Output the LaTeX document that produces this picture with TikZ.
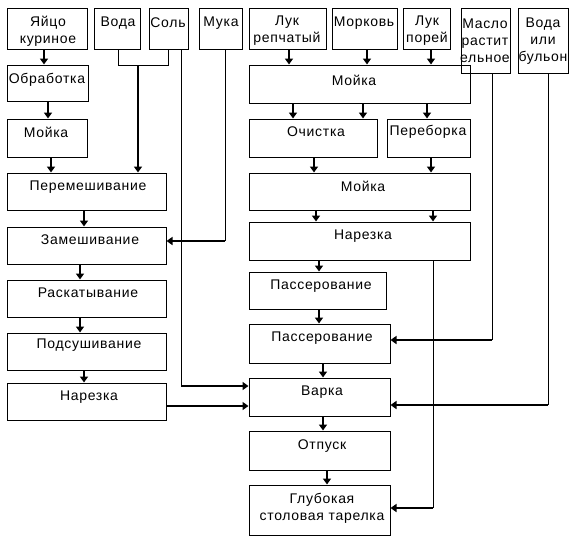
\documentclass[tikz,border=0pt]{standalone}
\usepackage{fontspec}
\setmainfont{Liberation Sans}[LetterSpace=5]
\usetikzlibrary{fit,arrows.meta}
\begin{document}
\begin{tikzpicture}[x=1pt,y=-1pt,
  box/.style={draw,line width=1pt,inner sep=0pt,rectangle},
  txt/.style={inner sep=0pt,align=center,font=\fontsize{14}{17}\selectfont},
  arr/.style={line width=2pt,-{Triangle[length=6pt,width=8pt]}},
  thin/.style={line width=1pt},
  thick/.style={line width=2pt}]
\useasboundingbox (0,0) rectangle (569,536);
% boxes
\newcommand\mkbox[5]{\node[box,fit={(#2,#3) (#4,#5)}] (#1) {};}
\mkbox{egg}{7}{8}{87}{49}
\mkbox{voda}{94}{8}{140}{49}
\mkbox{sol}{149}{8}{188}{49}
\mkbox{muka}{199}{8}{242}{49}
\mkbox{obr}{7}{65}{88}{101}
\mkbox{moyL}{7}{119}{87}{157}
\mkbox{perem}{7}{173}{166}{210}
\mkbox{zamesh}{7}{227}{166}{264}
\mkbox{raskat}{7}{280}{166}{317}
\mkbox{podsush}{7}{333}{166}{370}
\mkbox{narL}{7}{383}{166}{420}
\mkbox{lukr}{249}{8}{326}{49}
\mkbox{mork}{332}{8}{397}{49}
\mkbox{lukp}{403}{8}{450}{49}
\mkbox{maslo}{461}{8}{510}{73}
\mkbox{vodab}{518}{8}{568}{73}
\mkbox{moyR}{249}{65}{470}{103}
\mkbox{ochist}{249}{119}{377}{157}
\mkbox{perebor}{387}{119}{470}{157}
\mkbox{moy2}{249}{173}{470}{210}
\mkbox{narR}{249}{222}{470}{260}
\mkbox{pass1}{249}{272}{386}{309}
\mkbox{pass2}{249}{324}{390}{363}
\mkbox{varka}{249}{378}{390}{416}
\mkbox{otpusk}{249}{431}{390}{470}
\mkbox{glub}{249}{485}{390}{535}
% texts
\node[txt] (tegg) at (48,31) {Яйцо\\куриное};
\node[txt] (tvoda) at (118,23) {Вода};
\node[txt] (tsol) at (168,23) {Соль};
\node[txt] (tmuka) at (221,23) {Мука};
\node[txt] (tobr) at (47,80) {Обработка};
\node[txt] (tmoyL) at (46,132) {Мойка};
\node[txt] (tperem) at (88,187) {Перемешивание};
\node[txt] (tzamesh) at (90,240) {Замешивание};
\node[txt] (traskat) at (88,293) {Раскатывание};
\node[txt] (tpodsush) at (89,345) {Подсушивание};
\node[txt] (tnarL) at (89,397) {Нарезка};
\node[txt] (tlukr) at (287,31) {Лук\\репчатый};
\node[txt] (tmork) at (364,23) {Морковь};
\node[txt] (tlukp) at (427,31) {Лук\\порей};
\node[txt] (tmaslo) at (485,41) {Масло\\растит\\ельное};
\node[txt] (tvodab) at (543,41) {Вода\\или\\бульон};
\node[txt] (tmoyR) at (354,80) {Мойка};
\node[txt] (tochist) at (316,132) {Очистка};
\node[txt] (tperebor) at (428,132) {Переборка};
\node[txt] (tmoy2) at (363,186) {Мойка};
\node[txt] (tnarR) at (363,236) {Нарезка};
\node[txt] (tpass1) at (321,286) {Пассерование};
\node[txt] (tpass2) at (322,338) {Пассерование};
\node[txt] (tvarka) at (322,392) {Варка};
\node[txt] (totpusk) at (322,446) {Отпуск};
\node[txt] (tglub) at (322,508) {Глубокая\\столовая тарелка};
% left column arrows
\draw[arr] (44,0 |- egg.south) -- (44,0 |- obr.north);
\draw[arr] (48,0 |- obr.south) -- (48,0 |- moyL.north);
\draw[arr] (51,0 |- moyL.south) -- (51,0 |- perem.north);
\draw[arr] (84,0 |- perem.south) -- (84,0 |- zamesh.north);
\draw[arr] (80,0 |- zamesh.south) -- (80,0 |- raskat.north);
\draw[arr] (80,0 |- raskat.south) -- (80,0 |- podsush.north);
\draw[arr] (84,0 |- podsush.south) -- (84,0 |- narL.north);
% water + salt bracket
\coordinate (bj) at (138,65);
\draw[thin] (118,0 |- voda.south) -- (118,65) -- (168,65) -- (168,0 |- sol.south);
\draw[arr] (bj) -- (138,0 |- perem.north);
% salt to varka
\coordinate (sc) at (181,386);
\draw[thin] (181,0 |- sol.south) -- (sc);
\draw[arr] (sc) -- (varka.west |- sc);
% flour
\coordinate (mc) at (225,241);
\draw[thin] (225,0 |- muka.south) -- (mc);
\draw[arr] (mc) -- (zamesh.east |- mc);
% narezka left to varka
\draw[arr] (narL.east |- 0,406) -- (varka.west |- 0,406);
% right column
\draw[arr] (289,0 |- lukr.south) -- (289,0 |- moyR.north);
\draw[arr] (367,0 |- mork.south) -- (367,0 |- moyR.north);
\draw[arr] (431,0 |- lukp.south) -- (431,0 |- moyR.north);
\draw[arr] (293,0 |- moyR.south) -- (293,0 |- ochist.north);
\draw[arr] (363,0 |- moyR.south) -- (363,0 |- ochist.north);
\draw[arr] (427,0 |- moyR.south) -- (427,0 |- perebor.north);
\draw[arr] (314,0 |- ochist.south) -- (314,0 |- moy2.north);
\draw[arr] (431,0 |- perebor.south) -- (431,0 |- moy2.north);
\draw[arr] (316,0 |- moy2.south) -- (316,0 |- narR.north);
\draw[arr] (433,0 |- moy2.south) -- (433,0 |- narR.north);
\draw[arr] (319,0 |- narR.south) -- (319,0 |- pass1.north);
\draw[arr] (319,0 |- pass1.south) -- (319,0 |- pass2.north);
\draw[arr] (323,0 |- pass2.south) -- (323,0 |- varka.north);
\draw[arr] (323,0 |- varka.south) -- (323,0 |- otpusk.north);
\draw[arr] (327,0 |- otpusk.south) -- (327,0 |- glub.north);
% oil
\coordinate (oc) at (492,340);
\draw[thin] (492,0 |- maslo.south) -- (oc);
\draw[arr] (oc) -- (pass2.east |- oc);
% water/broth
\coordinate (wc) at (548,405);
\draw[thin] (548,0 |- vodab.south) -- (wc);
\draw[arr] (wc) -- (varka.east |- wc);
% narezka right to plate
\coordinate (nc) at (433,508);
\draw[thin] (433,0 |- narR.south) -- (nc);
\draw[arr] (nc) -- (glub.east |- nc);
\end{tikzpicture}
\end{document}
